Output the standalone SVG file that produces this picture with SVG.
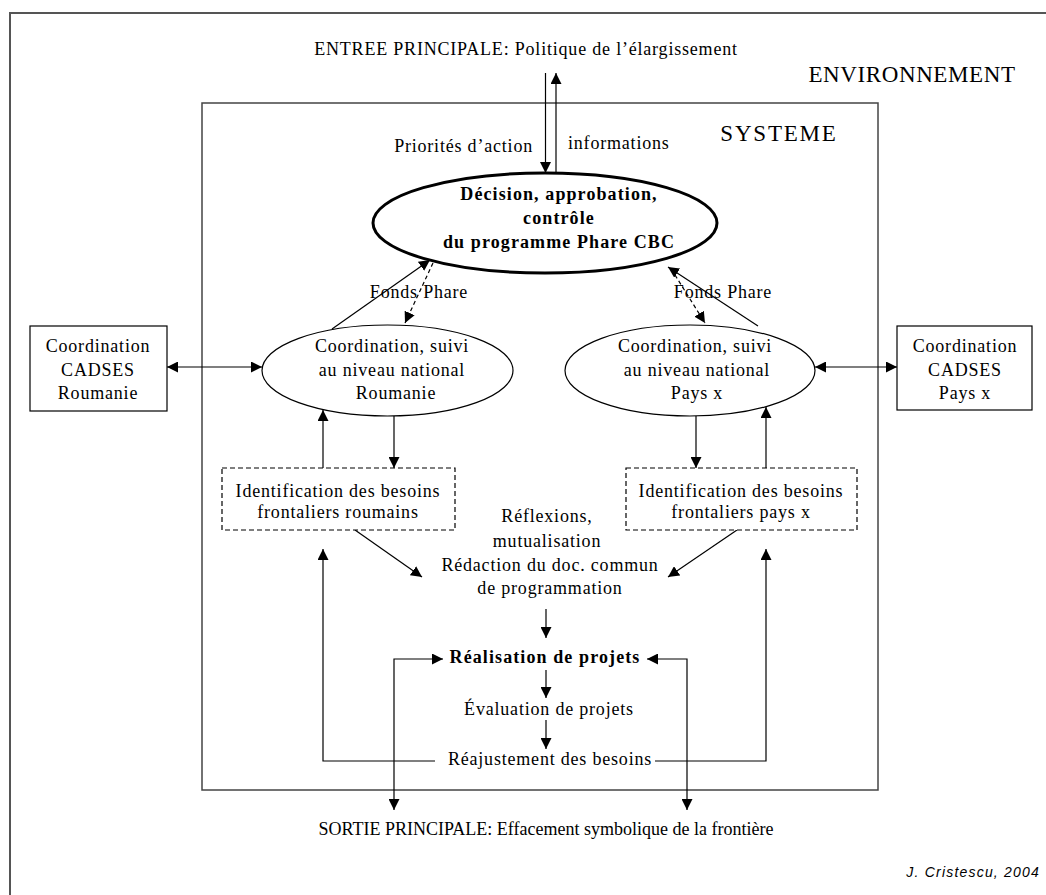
<svg xmlns="http://www.w3.org/2000/svg" width="1046" height="895" viewBox="0 0 1046 895">
<defs>
<marker id="ah" markerUnits="userSpaceOnUse" markerWidth="11" markerHeight="11" refX="11" refY="5.5" orient="auto-start-reverse" viewBox="0 0 11 11">
<path d="M0,0 L11,5.5 L0,11 z" fill="#000"/>
</marker>
</defs>
<style>
text{font-family:"Liberation Serif","Times New Roman",serif;font-size:18px;fill:#000;letter-spacing:0.8px}
.b{font-weight:bold;letter-spacing:1.1px}
.c{text-anchor:middle}
.big{font-size:23px;letter-spacing:0.6px}
.sig{font-family:"Liberation Sans",Arial,sans-serif;font-style:italic;font-size:14px;letter-spacing:1.2px}
.ln{fill:none;stroke:#000;stroke-width:1.2}
.ar{marker-end:url(#ah)}
.dbl{marker-start:url(#ah);marker-end:url(#ah)}
.dash{stroke-dasharray:4,3}
.node{fill:#fff;stroke:#000;stroke-width:1.2}
</style>
<rect width="1046" height="895" fill="#fff"/>
<rect x="10" y="13" width="1050" height="900" fill="none" stroke="#555" stroke-width="2"/>
<rect id="systeme" x="202" y="103" width="676" height="687" fill="none" stroke="#444" stroke-width="1.5"/>
<text x="526" y="55" class="c">ENTREE  PRINCIPALE: Politique de l’élargissement</text>
<text x="912" y="82" class="c big">ENVIRONNEMENT</text>
<text x="779" y="141" class="c big" style="letter-spacing:1.8px">SYSTEME</text>
<text x="533" y="152" style="text-anchor:end">Priorités d’action</text>
<text x="568" y="149">informations</text>
<g id="connectors">
<line class="ln ar" x1="545.5" y1="73" x2="545.5" y2="173"/>
<line class="ln ar" x1="556" y1="173" x2="556" y2="73"/>
<line class="ln ar" x1="332" y1="329" x2="430" y2="260"/>
<line class="ln ar dash" x1="433" y1="263" x2="405" y2="323"/>
<line class="ln ar" x1="758" y1="326" x2="668" y2="267"/>
<line class="ln ar dash" x1="675" y1="275" x2="705" y2="323"/>
<line class="ln dbl" x1="167" y1="367" x2="262" y2="367"/>
<line class="ln dbl" x1="815" y1="367" x2="897" y2="367"/>
<line class="ln ar" x1="323" y1="468" x2="323" y2="410"/>
<line class="ln ar" x1="394" y1="416" x2="394" y2="468"/>
<line class="ln ar" x1="696" y1="416" x2="696" y2="468"/>
<line class="ln ar" x1="766" y1="468" x2="766" y2="407"/>
<line class="ln ar" x1="355" y1="530" x2="422" y2="577"/>
<line class="ln ar" x1="737" y1="530" x2="668" y2="577"/>
<line class="ln ar" x1="546" y1="609" x2="546" y2="638"/>
<path class="ln dbl" d="M443,659 L394,659 L394,810"/>
<path class="ln dbl" d="M647,659 L687,659 L687,810"/>
<line class="ln ar" x1="546" y1="670" x2="546" y2="698"/>
<line class="ln ar" x1="546" y1="720" x2="546" y2="749"/>
<path class="ln ar" d="M435,761 L323,761 L323,549"/>
<path class="ln ar" d="M655,761 L766,761 L766,549"/>
</g>
<text x="419" y="298" class="c">Fonds Phare</text>
<text x="723" y="298" class="c">Fonds Phare</text>
<g id="decision">
<ellipse cx="545" cy="223" rx="172" ry="50" fill="#fff" stroke="#000" stroke-width="3"/>
<text x="559" y="200" class="c b">Décision, approbation,</text>
<text x="559" y="224" class="c b">contrôle</text>
<text x="559" y="248" class="c b">du programme Phare CBC</text>
</g>
<g id="coord-ro">
<ellipse cx="387.5" cy="370.5" rx="125.5" ry="45.5" class="node"/>
<text x="392" y="352" class="c">Coordination, suivi</text>
<text x="392" y="376" class="c">au niveau national</text>
<text x="396" y="399" class="c">Roumanie</text>
</g>
<g id="coord-px">
<ellipse cx="690" cy="370.5" rx="125" ry="45.5" class="node"/>
<text x="695" y="352" class="c">Coordination, suivi</text>
<text x="697" y="376" class="c">au niveau national</text>
<text x="697" y="399" class="c">Pays x</text>
</g>
<g id="cadses-ro">
<rect x="30" y="326" width="137" height="85" class="node"/>
<text x="98" y="352" class="c">Coordination</text>
<text x="98" y="376" class="c">CADSES</text>
<text x="98" y="399" class="c">Roumanie</text>
</g>
<g id="cadses-px">
<rect x="897" y="326" width="135" height="84" class="node"/>
<text x="965" y="352" class="c">Coordination</text>
<text x="965" y="376" class="c">CADSES</text>
<text x="965" y="399" class="c">Pays x</text>
</g>
<g id="besoins-ro">
<rect x="222" y="468" width="233" height="62" class="node" stroke-dasharray="5,3"/>
<text x="338" y="497" class="c">Identification des besoins</text>
<text x="338" y="518" class="c">frontaliers roumains</text>
</g>
<g id="besoins-px">
<rect x="626" y="468" width="231" height="62" class="node" stroke-dasharray="5,3"/>
<text x="741" y="497" class="c">Identification des besoins</text>
<text x="741" y="518" class="c">frontaliers pays x</text>
</g>
<g id="redaction">
<text x="547" y="522" class="c">Réflexions,</text>
<text x="547" y="547" class="c">mutualisation</text>
<text x="550" y="571" class="c">Rédaction du doc. commun</text>
<text x="550" y="594" class="c">de programmation</text>
</g>
<g id="realisation"><text x="545" y="663" class="c b">Réalisation de projets</text></g>
<g id="evaluation"><text x="549" y="715" class="c">Évaluation de projets</text></g>
<g id="reajustement"><text x="550" y="765" class="c">Réajustement des besoins</text></g>
<text x="546" y="835" class="c" style="letter-spacing:0">SORTIE  PRINCIPALE: Effacement symbolique de la frontière</text>
<text x="1040" y="877" class="sig" style="text-anchor:end">J. Cristescu, 2004</text>
</svg>
